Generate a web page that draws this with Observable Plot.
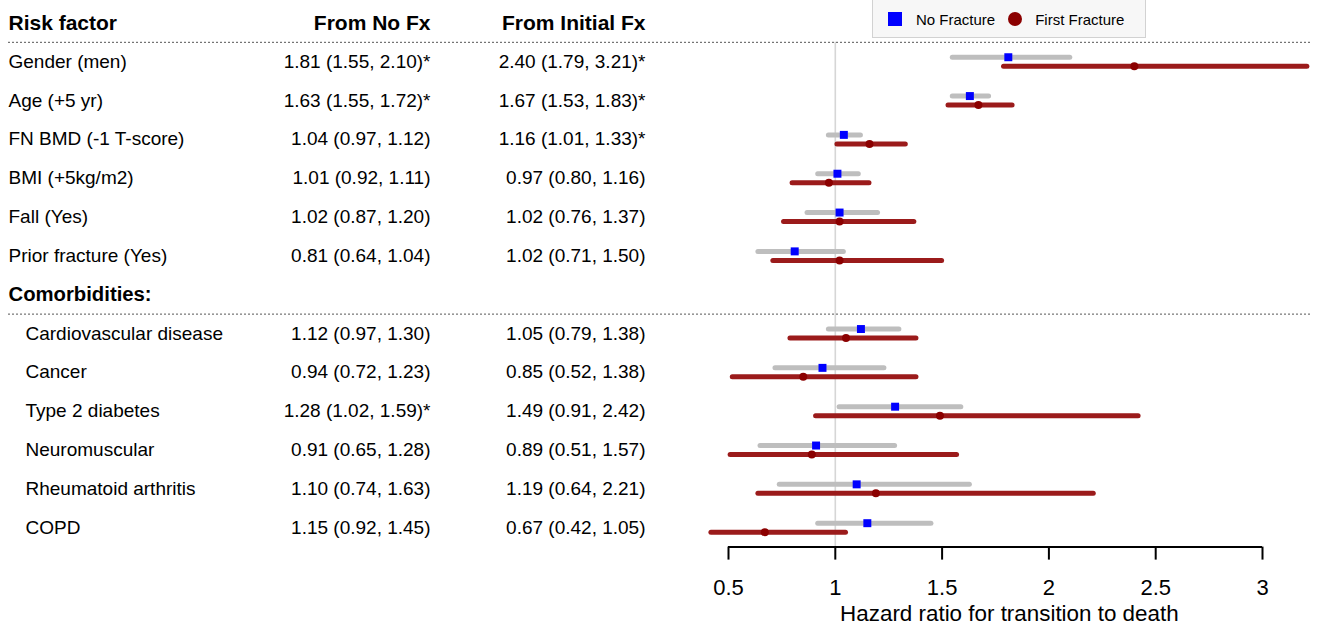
<!DOCTYPE html>
<html><head><meta charset="utf-8">
<script src="https://cdn.jsdelivr.net/npm/d3@7"></script>
<script src="https://cdn.jsdelivr.net/npm/@observablehq/plot@0.6"></script>
<style>
body{margin:0;background:#fff;font-family:"Liberation Sans",Arial,sans-serif}
#wrap{position:relative;width:1323px;height:629px;overflow:hidden}
#legend{position:absolute;left:872px;top:-4px;width:274px;height:42px;box-sizing:border-box;background:#f7f7f7;border:1px solid #d2d2d2;display:flex;align-items:center;padding-top:4px;padding-left:15px;font-size:15px;color:#000;z-index:2}
#legend .sq{width:14px;height:14px;background:#0000ff;margin-right:14px}
#legend .ci{width:14px;height:14px;border-radius:50%;background:#8b0000;margin-left:13px;margin-right:13px}
svg{position:absolute;left:0;top:0}
</style></head><body><div id="wrap"><div id="legend"><span class="sq"></span><span>No Fracture</span><span class="ci"></span><span>First Fracture</span></div></div>
<script>
// ---- data ----
const labels = ["Gender (men)", "Age (+5 yr)", "FN BMD (-1 T-score)", "BMI (+5kg/m2)", "Fall (Yes)", "Prior fracture (Yes)",
  "Cardiovascular disease", "Cancer", "Type 2 diabetes", "Neuromuscular", "Rheumatoid arthritis", "COPD"];
const groups = ["main","main","main","main","main","main","comorb","comorb","comorb","comorb","comorb","comorb"];
const noFxEst = [1.81, 1.63, 1.04, 1.01, 1.02, 0.81, 1.12, 0.94, 1.28, 0.91, 1.10, 1.15];
const noFxLo  = [1.55, 1.55, 0.97, 0.92, 0.87, 0.64, 0.97, 0.72, 1.02, 0.65, 0.74, 0.92];
const noFxHi  = [2.10, 1.72, 1.12, 1.11, 1.20, 1.04, 1.30, 1.23, 1.59, 1.28, 1.63, 1.45];
const noFxSig = [true, true, false, false, false, false, false, false, true, false, false, false];
const inFxEst = [2.40, 1.67, 1.16, 0.97, 1.02, 1.02, 1.05, 0.85, 1.49, 0.89, 1.19, 0.67];
const inFxLo  = [1.79, 1.53, 1.01, 0.80, 0.76, 0.71, 0.79, 0.52, 0.91, 0.51, 0.64, 0.42];
const inFxHi  = [3.21, 1.83, 1.33, 1.16, 1.37, 1.50, 1.38, 1.38, 2.42, 1.57, 2.21, 1.05];
const inFxSig = [true, true, true, false, false, false, false, false, false, false, false, false];
const colHeaders = ["Risk factor", "From No Fx", "From Initial Fx"];
const sectionHeader = "Comorbidities:";
const xTicks = [0.5, 1, 1.5, 2, 2.5, 3];
const axisTitle = "Hazard ratio for transition to death";
const refValue = 1;

// ---- table ----
const fmt = (e, l, h, s) => `${e.toFixed(2)} (${l.toFixed(2)}, ${h.toFixed(2)})${s ? "*" : ""}`;
const rows = labels.map((label, k) => ({
  label, group: groups[k],
  pos: groups[k] === "main" ? k + 1 : k + 2,
  noEst: noFxEst[k], noLo: noFxLo[k], noHi: noFxHi[k],
  inEst: inFxEst[k], inLo: inFxLo[k], inHi: inFxHi[k],
  noText: fmt(noFxEst[k], noFxLo[k], noFxHi[k], noFxSig[k]),
  inText: fmt(inFxEst[k], inFxLo[k], inFxHi[k], inFxSig[k])
}));
const sectionPos = groups.indexOf("comorb") + 1;
const lastPos = rows.length + 1;
const separators = [0.5, sectionPos + 0.5];
const xMid = (d3.min(inFxLo.concat(noFxLo)) + d3.max(inFxHi.concat(noFxHi))) / 2;

const font = '"Liberation Sans", Arial, sans-serif';
const plot = Plot.plot({
  width: 1323, height: 629,
  marginLeft: 8, marginRight: 13, marginTop: 0, marginBottom: 82.4,
  x: {domain: [0.5, 3], range: [728, 1262]},
  y: {domain: [0, lastPos + 0.5], range: [22.4, 546.6], axis: null},
  style: {fontFamily: font, fontSize: "19px", color: "#000", background: "transparent", overflow: "visible"},
  marks: [
    Plot.ruleX([refValue], {y1: 0.5, y2: lastPos + 0.5, stroke: "#d6d6d6", strokeWidth: 1.6}),
    Plot.ruleY(separators, {stroke: "#555", strokeDasharray: "2,2"}),
    Plot.ruleY(rows, {y: "pos", x1: "noLo", x2: "noHi", dy: -4.5, stroke: "#bebebe", strokeWidth: 5, strokeLinecap: "round"}),
    Plot.ruleY(rows, {y: "pos", x1: "inLo", x2: "inHi", dy: 4.5, stroke: "#9b1b1b", strokeWidth: 5, strokeLinecap: "round"}),
    Plot.dot(rows, {x: "noEst", y: "pos", dy: -4.5, symbol: "square", r: 4.5, fill: "#0000ff"}),
    Plot.dot(rows, {x: "inEst", y: "pos", dy: 4.5, r: 4, fill: "#8b0000"}),
    // table text
    Plot.text(rows.filter(d => d.group === "main"), {y: "pos", text: "label", frameAnchor: "left", textAnchor: "start", lineAnchor: "middle", fontSize: 19}),
    Plot.text(rows.filter(d => d.group === "comorb"), {y: "pos", text: "label", frameAnchor: "left", textAnchor: "start", lineAnchor: "middle", dx: 17, fontSize: 19}),
    Plot.text(rows, {y: "pos", text: "noText", frameAnchor: "left", textAnchor: "end", lineAnchor: "middle", dx: 422, fontSize: 19}),
    Plot.text(rows, {y: "pos", text: "inText", frameAnchor: "left", textAnchor: "end", lineAnchor: "middle", dx: 637, fontSize: 19}),
    Plot.text([colHeaders[0]], {y: () => 0, text: d => d, frameAnchor: "left", textAnchor: "start", lineAnchor: "middle", fontWeight: "bold", fontSize: 21}),
    Plot.text([colHeaders[1]], {y: () => 0, text: d => d, frameAnchor: "left", textAnchor: "end", lineAnchor: "middle", dx: 422, fontWeight: "bold", fontSize: 21}),
    Plot.text([colHeaders[2]], {y: () => 0, text: d => d, frameAnchor: "left", textAnchor: "end", lineAnchor: "middle", dx: 637, fontWeight: "bold", fontSize: 21}),
    Plot.text([sectionHeader], {y: () => sectionPos, text: d => d, frameAnchor: "left", textAnchor: "start", lineAnchor: "middle", fontWeight: "bold", fontSize: 20.3}),
    // axis
    Plot.ruleY([lastPos + 0.5], {x1: xTicks[0], x2: xTicks[xTicks.length - 1], stroke: "#000", strokeWidth: 2}),
    Plot.axisX({ticks: xTicks, tickSize: 13, tickPadding: 19, fontSize: 22, stroke: "#000", strokeWidth: 2, tickFormat: d => String(d), label: null}),
    Plot.text([axisTitle], {x: () => xMid, text: d => d, frameAnchor: "bottom", lineAnchor: "middle", dy: 67, fontSize: 22.4})
  ]
});
document.getElementById("wrap").appendChild(plot);
</script></body></html>
